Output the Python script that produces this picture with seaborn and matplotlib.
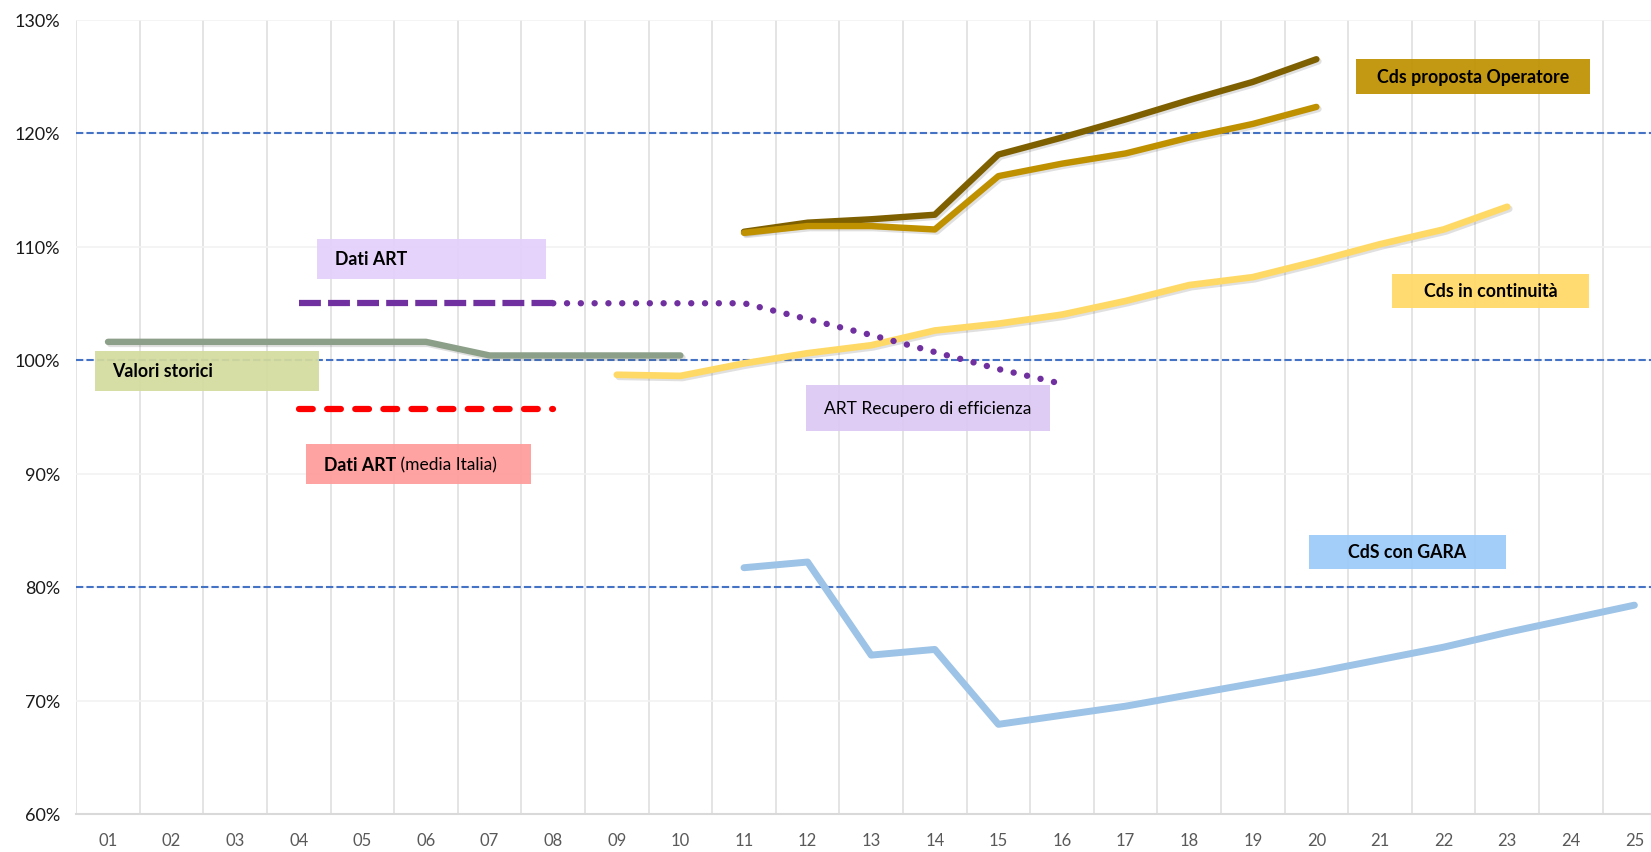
import matplotlib
matplotlib.use("Agg")
import numpy as np
import pandas as pd
import matplotlib.pyplot as plt
import matplotlib.patheffects as pe
from matplotlib.patches import Rectangle
from matplotlib.ticker import FuncFormatter
import seaborn as sns

# Periods on the x axis
periods = ["01", "02", "03", "04", "05", "06", "07", "08", "09", "10", "11", "12", "13",
           "14", "15", "16", "17", "18", "19", "20", "21", "22", "23", "24", "25"]

# Series values (%), each with the periods it covers
storici_periods = ["01", "02", "03", "04", "05", "06", "07", "08", "09", "10"]
storici_values = [101.6, 101.6, 101.6, 101.6, 101.6, 101.6, 100.4, 100.4, 100.4, 100.4]

art_periods = ["04", "05", "06", "07", "08"]
art_values = [105.0, 105.0, 105.0, 105.0, 105.0]

art_italia_periods = ["04", "05", "06", "07", "08"]
art_italia_values = [95.7, 95.7, 95.7, 95.7, 95.7]

recupero_periods = ["08", "09", "10", "11", "12", "13", "14", "15", "16"]
recupero_values = [105.0, 105.0, 105.0, 105.0, 103.6, 102.2, 100.7, 99.2, 97.9]

continuita_periods = ["09", "10", "11", "12", "13", "14", "15", "16", "17", "18", "19", "20",
                      "21", "22", "23"]
continuita_values = [98.7, 98.6, 99.7, 100.6, 101.3, 102.6, 103.2, 104.0, 105.2, 106.6, 107.3,
                     108.7, 110.2, 111.5, 113.5]

operatore_periods = ["11", "12", "13", "14", "15", "16", "17", "18", "19", "20"]
operatore_high = [111.3, 112.1, 112.4, 112.8, 118.1, 119.6, 121.2, 122.9, 124.5, 126.5]
operatore_low = [111.2, 111.8, 111.8, 111.5, 116.2, 117.3, 118.2, 119.6, 120.8, 122.3]

gara_periods = ["11", "12", "13", "14", "15", "16", "17", "18", "19", "20", "21", "22", "23",
                "24", "25"]
gara_values = [81.7, 82.2, 74.0, 74.5, 67.9, 68.7, 69.5, 70.5, 71.5, 72.5, 73.6, 74.7, 76.0,
               77.2, 78.4]

reference_levels = [80, 100, 120]


def frame(per, vals):
    return pd.DataFrame({"x": [periods.index(p) for p in per], "y": vals})


sns.set_theme(style="white")
plt.rcParams["font.family"] = ["Lato", "DejaVu Sans"]

fig = plt.figure(figsize=(16.51, 8.53), dpi=100)
ax = fig.add_axes([76.2 / 1651, 1 - 815 / 853, 1590 / 1651, 794.5 / 853])

shadow = [pe.SimpleLineShadow(offset=(1.5, -1.5), alpha=0.18, shadow_color="#555555"), pe.Normal()]

# Reference dashed lines
for lvl in reference_levels:
    ax.axhline(lvl, color="#4472C4", lw=1.5, linestyle=(0, (3.5, 1.5)), zorder=2)

sns.lineplot(data=frame(storici_periods, storici_values), x="x", y="y", ax=ax,
             color="#8C9F88", lw=4.6, solid_capstyle="round", zorder=5, path_effects=shadow)
sns.lineplot(data=frame(art_periods, art_values), x="x", y="y", ax=ax,
             color="#7030A0", lw=4.5, linestyle=(0, (3.5, 1.15)), dash_capstyle="butt", zorder=5)
sns.lineplot(data=frame(recupero_periods, recupero_values), x="x", y="y", ax=ax,
             color="#7030A0", lw=4.6, linestyle=(0, (0.01, 2.15)), dash_capstyle="round", zorder=6)
sns.lineplot(data=frame(art_italia_periods, art_italia_values), x="x", y="y", ax=ax,
             color="#FF0000", lw=4.5, linestyle=(0, (2.2, 2.3)), dash_capstyle="round", zorder=5)
sns.lineplot(data=frame(continuita_periods, continuita_values), x="x", y="y", ax=ax,
             color="#FFD966", lw=4.8, solid_capstyle="round", zorder=5, path_effects=shadow)
sns.lineplot(data=frame(operatore_periods, operatore_high), x="x", y="y", ax=ax,
             color="#7F6000", lw=4.6, solid_capstyle="round", zorder=5, path_effects=shadow)
sns.lineplot(data=frame(operatore_periods, operatore_low), x="x", y="y", ax=ax,
             color="#BF9000", lw=4.6, solid_capstyle="round", zorder=5, path_effects=shadow)
sns.lineplot(data=frame(gara_periods, gara_values), x="x", y="y", ax=ax,
             color="#9DC3E6", lw=5.0, solid_capstyle="round", zorder=5)

# Label boxes: (text, x0, x1, y0, y1, box colour, text x, alignment)
boxes = [
    ("Valori storici", -0.20, 3.32, 97.27, 100.8, "#D3DB9E", 0.06, "left"),
    ("Dati ART", 3.29, 6.88, 107.14, 110.66, "#E3D0FB", 3.57, "left"),
    ("Dati ART", 3.11, 6.65, 89.07, 92.6, "#FF9B9B", 3.40, "left"),
    ("ART Recupero di efficienza", 10.97, 14.81, 93.74, 97.8, "#DCC8F5", 11.26, "left"),
    ("Cds proposta Operatore", 19.62, 23.30, 123.4, 126.5, "#BF9000", 21.46, "center"),
    ("Cds in continuità", 20.19, 23.29, 104.6, 107.6, "#FFD966", 21.74, "center"),
    ("CdS con GARA", 18.88, 21.98, 81.59, 84.58, "#9DCBFA", 20.43, "center"),
]
for i, (txt, x0, x1, y0, y1, col, tx, ha) in enumerate(boxes):
    ax.add_patch(Rectangle((x0, y0), x1 - x0, y1 - y0, facecolor=col, edgecolor="none",
                           alpha=0.93, zorder=3))
    bold = txt != "ART Recupero di efficienza"
    t = ax.text(tx, (y0 + y1) / 2, txt, ha=ha, va="center", fontsize=12.8 if bold else 12.5,
                fontweight="bold" if bold else "normal", color="black", zorder=7)
    if i == 2:
        ax.annotate(" (media Italia)", xy=(1, 0), xycoords=t, va="bottom", ha="left",
                    fontsize=12.5, color="black", zorder=7)

ax.set_xlim(-0.5, 24.5)
ax.set_ylim(60, 130)
ax.set_xticks(range(len(periods)))
ax.set_xticklabels(periods)
ax.set_xticks(np.arange(-0.5, 25, 1), minor=True)
ax.set_yticks(range(60, 131, 10))
ax.yaxis.set_major_formatter(FuncFormatter(lambda v, _: f"{v:.0f}%"))
ax.tick_params(axis="x", which="both", length=0, pad=13, labelsize=12, labelcolor="#595959")
ax.tick_params(axis="y", length=0, pad=11.5, labelsize=13, labelcolor="#1a1a1a")
ax.grid(False)
ax.grid(True, axis="x", which="minor", color="#E2E2E2", lw=1.3, zorder=1)
ax.grid(True, axis="y", which="major", color="#F2F2F2", lw=1.2, zorder=1)
ax.set_axisbelow(True)
for side in ["top", "right", "left"]:
    ax.spines[side].set_visible(False)
ax.spines["bottom"].set_color("#D9D9D9")
ax.spines["bottom"].set_linewidth(1.5)
ax.set_xlabel("")
ax.set_ylabel("")

fig.savefig("out.png", dpi=100)
